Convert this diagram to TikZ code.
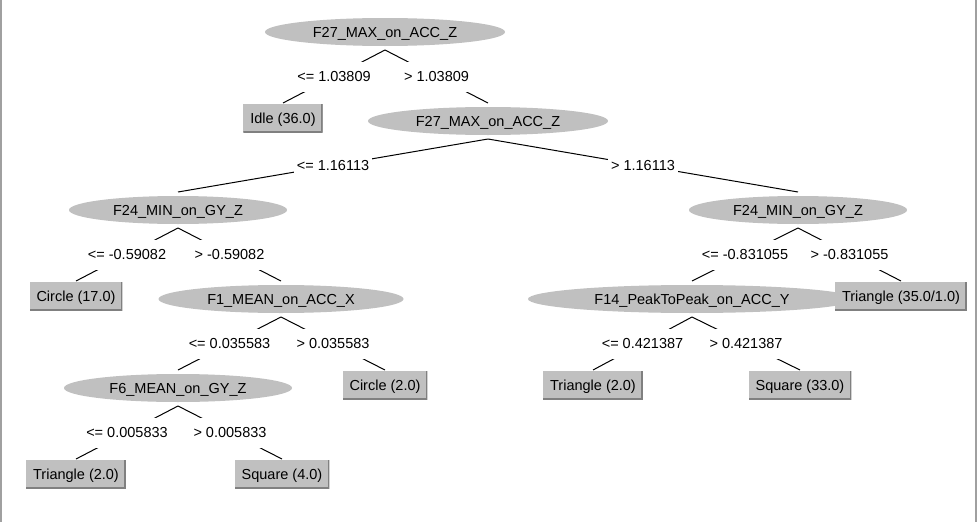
\documentclass[tikz,border=0pt]{standalone}
\usepackage{fontspec}
\setmainfont{Liberation Sans}
\usetikzlibrary{shapes.geometric}
\definecolor{nodegray}{RGB}{192,192,192}
\definecolor{shadegray}{RGB}{128,128,128}
\definecolor{framegray}{RGB}{160,160,160}
\begin{document}
\begin{tikzpicture}[x=1pt,y=-1pt,
  every node/.style={font=\fontsize{14.5}{17}\selectfont, text height=10.4pt, text depth=0pt},
  split/.style={ellipse, fill=nodegray, inner sep=0pt, minimum height=28pt,
    outer xsep=0pt, outer ysep=4pt},
  leaf/.style={rectangle, fill=nodegray, inner xsep=7pt, inner ysep=0pt,
    minimum height=28pt, outer xsep=0pt, outer ysep=1pt,
    path picture={\draw[shadegray, line width=3pt]
      (path picture bounding box.north east) -- (path picture bounding box.south east)
      -- (path picture bounding box.south west);}},
  cond/.style={fill=white, inner xsep=3pt, inner ysep=0pt, minimum height=30pt},
  branch/.style={draw=black, line width=1pt}
]
\useasboundingbox (0,0) rectangle (978,522);
\fill[white] (0,0) rectangle (978,522);
\draw[framegray, line width=2pt] (1,0) -- (1,522);
\draw[framegray, line width=2pt] (975.5,0) -- (975.5,522);

% split nodes
\node[split, minimum width=240pt] (root) at (385,32) {F27\_MAX\_on\_ACC\_Z};
\node[split, minimum width=240pt] (acc) at (488,121) {F27\_MAX\_on\_ACC\_Z};
\node[split, minimum width=218pt] (gyL) at (178,210) {F24\_MIN\_on\_GY\_Z};
\node[split, minimum width=218pt] (gyR) at (798,210) {F24\_MIN\_on\_GY\_Z};
\node[split, minimum width=245pt] (meanX) at (281,299) {F1\_MEAN\_on\_ACC\_X};
\node[split, minimum width=328pt] (p2p) at (692,299) {F14\_PeakToPeak\_on\_ACC\_Y};
\node[split, minimum width=228pt] (meanZ) at (178,388) {F6\_MEAN\_on\_GY\_Z};

% leaves
\node[leaf] (idle) at (283,118) {Idle (36.0)};
\node[leaf] (circA) at (76,296) {Circle (17.0)};
\node[leaf] (triA) at (901,296) {Triangle (35.0/1.0)};
\node[leaf] (circB) at (385,385) {Circle (2.0)};
\node[leaf] (triB) at (593,385) {Triangle (2.0)};
\node[leaf] (sqA) at (800,385) {Square (33.0)};
\node[leaf] (triC) at (76,474) {Triangle (2.0)};
\node[leaf] (sqB) at (282,474) {Square (4.0)};

% branches with their conditions
\draw[branch] (root.south) -- node[cond] {<= 1.03809} (idle.north);
\draw[branch] (root.south) -- node[cond] {> 1.03809} (acc.north);
\draw[branch] (acc.south) -- node[cond] {<= 1.16113} (gyL.north);
\draw[branch] (acc.south) -- node[cond] {> 1.16113} (gyR.north);
\draw[branch] (gyL.south) -- node[cond] {<= -0.59082} (circA.north);
\draw[branch] (gyL.south) -- node[cond] {> -0.59082} (meanX.north);
\draw[branch] (meanX.south) -- node[cond] {<= 0.035583} (meanZ.north);
\draw[branch] (meanX.south) -- node[cond] {> 0.035583} (circB.north);
\draw[branch] (meanZ.south) -- node[cond] {<= 0.005833} (triC.north);
\draw[branch] (meanZ.south) -- node[cond] {> 0.005833} (sqB.north);
\draw[branch] (gyR.south) -- node[cond] {<= -0.831055} (p2p.north);
\draw[branch] (gyR.south) -- node[cond] {> -0.831055} (triA.north);
\draw[branch] (p2p.south) -- node[cond] {<= 0.421387} (triB.north);
\draw[branch] (p2p.south) -- node[cond] {> 0.421387} (sqA.north);
\end{tikzpicture}
\end{document}
